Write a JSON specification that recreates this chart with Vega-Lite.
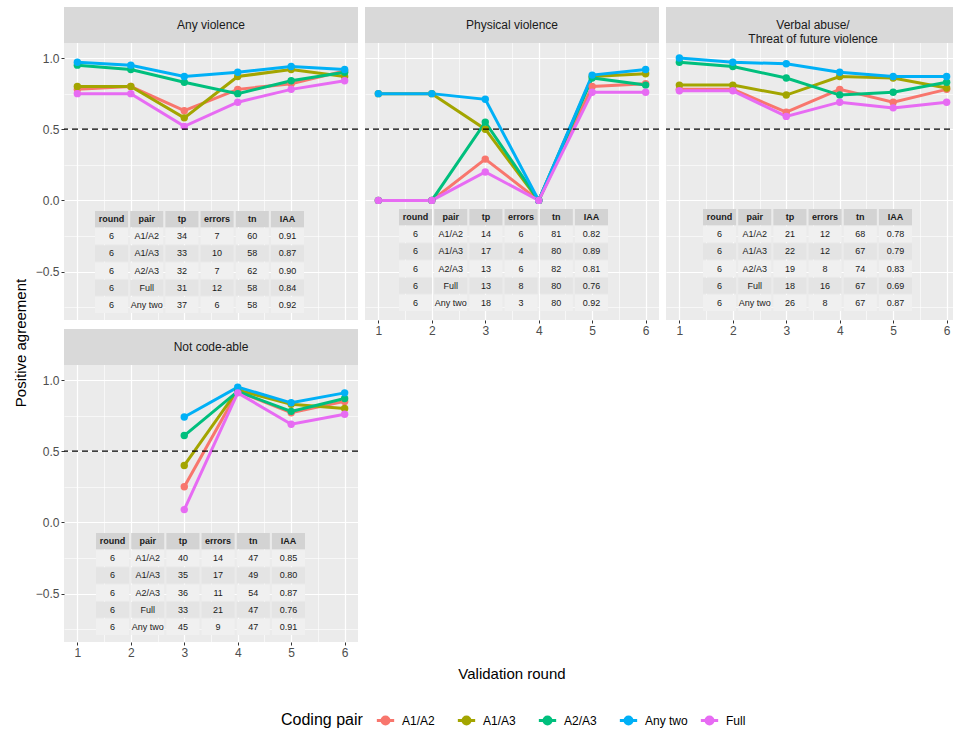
{
  "$schema": "https://vega.github.io/schema/vega-lite/v6.json",
  "background": "#FFFFFF",
  "padding": {"left": 5, "top": 7, "right": 5, "bottom": 5},
  "config": {
    "font": "Liberation Sans",
    "legend": {
      "orient": "none", "legendX": 276, "legendY": 703, "direction": "horizontal",
      "titleOrient": "left", "titleFontSize": 16, "titleFontWeight": "normal", "titleColor": "#000000",
      "titleBaseline": "middle", "titlePadding": 12,
      "labelFontSize": 12, "labelColor": "#000000", "labelOffset": 6,
      "symbolType": "M-1,0L1,0M0.4,0A0.4,0.4,0,1,1,-0.4,0A0.4,0.4,0,1,1,0.4,0",
      "symbolSize": 300, "symbolStrokeWidth": 3, "gridAlign": "all", "columnPadding": 6, "padding": 0
    }
  },
  "datasets": {
    "lines": [
      {"panel": "Any violence", "pair": "A1/A2", "round": 1, "value": 0.78},
      {"panel": "Any violence", "pair": "A1/A2", "round": 2, "value": 0.80},
      {"panel": "Any violence", "pair": "A1/A2", "round": 3, "value": 0.63},
      {"panel": "Any violence", "pair": "A1/A2", "round": 4, "value": 0.78},
      {"panel": "Any violence", "pair": "A1/A2", "round": 5, "value": 0.82},
      {"panel": "Any violence", "pair": "A1/A2", "round": 6, "value": 0.91},
      {"panel": "Any violence", "pair": "A1/A3", "round": 1, "value": 0.80},
      {"panel": "Any violence", "pair": "A1/A3", "round": 2, "value": 0.80},
      {"panel": "Any violence", "pair": "A1/A3", "round": 3, "value": 0.58},
      {"panel": "Any violence", "pair": "A1/A3", "round": 4, "value": 0.87},
      {"panel": "Any violence", "pair": "A1/A3", "round": 5, "value": 0.92},
      {"panel": "Any violence", "pair": "A1/A3", "round": 6, "value": 0.87},
      {"panel": "Any violence", "pair": "A2/A3", "round": 1, "value": 0.95},
      {"panel": "Any violence", "pair": "A2/A3", "round": 2, "value": 0.92},
      {"panel": "Any violence", "pair": "A2/A3", "round": 3, "value": 0.83},
      {"panel": "Any violence", "pair": "A2/A3", "round": 4, "value": 0.75},
      {"panel": "Any violence", "pair": "A2/A3", "round": 5, "value": 0.84},
      {"panel": "Any violence", "pair": "A2/A3", "round": 6, "value": 0.90},
      {"panel": "Any violence", "pair": "Any two", "round": 1, "value": 0.97},
      {"panel": "Any violence", "pair": "Any two", "round": 2, "value": 0.95},
      {"panel": "Any violence", "pair": "Any two", "round": 3, "value": 0.87},
      {"panel": "Any violence", "pair": "Any two", "round": 4, "value": 0.90},
      {"panel": "Any violence", "pair": "Any two", "round": 5, "value": 0.94},
      {"panel": "Any violence", "pair": "Any two", "round": 6, "value": 0.92},
      {"panel": "Any violence", "pair": "Full", "round": 1, "value": 0.75},
      {"panel": "Any violence", "pair": "Full", "round": 2, "value": 0.75},
      {"panel": "Any violence", "pair": "Full", "round": 3, "value": 0.52},
      {"panel": "Any violence", "pair": "Full", "round": 4, "value": 0.69},
      {"panel": "Any violence", "pair": "Full", "round": 5, "value": 0.78},
      {"panel": "Any violence", "pair": "Full", "round": 6, "value": 0.84},

      {"panel": "Physical violence", "pair": "A1/A2", "round": 1, "value": 0},
      {"panel": "Physical violence", "pair": "A1/A2", "round": 2, "value": 0},
      {"panel": "Physical violence", "pair": "A1/A2", "round": 3, "value": 0.29},
      {"panel": "Physical violence", "pair": "A1/A2", "round": 4, "value": 0},
      {"panel": "Physical violence", "pair": "A1/A2", "round": 5, "value": 0.80},
      {"panel": "Physical violence", "pair": "A1/A2", "round": 6, "value": 0.82},
      {"panel": "Physical violence", "pair": "A1/A3", "round": 1, "value": 0.75},
      {"panel": "Physical violence", "pair": "A1/A3", "round": 2, "value": 0.75},
      {"panel": "Physical violence", "pair": "A1/A3", "round": 3, "value": 0.50},
      {"panel": "Physical violence", "pair": "A1/A3", "round": 4, "value": 0},
      {"panel": "Physical violence", "pair": "A1/A3", "round": 5, "value": 0.87},
      {"panel": "Physical violence", "pair": "A1/A3", "round": 6, "value": 0.89},
      {"panel": "Physical violence", "pair": "A2/A3", "round": 1, "value": 0},
      {"panel": "Physical violence", "pair": "A2/A3", "round": 2, "value": 0},
      {"panel": "Physical violence", "pair": "A2/A3", "round": 3, "value": 0.55},
      {"panel": "Physical violence", "pair": "A2/A3", "round": 4, "value": 0},
      {"panel": "Physical violence", "pair": "A2/A3", "round": 5, "value": 0.86},
      {"panel": "Physical violence", "pair": "A2/A3", "round": 6, "value": 0.81},
      {"panel": "Physical violence", "pair": "Any two", "round": 1, "value": 0.75},
      {"panel": "Physical violence", "pair": "Any two", "round": 2, "value": 0.75},
      {"panel": "Physical violence", "pair": "Any two", "round": 3, "value": 0.71},
      {"panel": "Physical violence", "pair": "Any two", "round": 4, "value": 0},
      {"panel": "Physical violence", "pair": "Any two", "round": 5, "value": 0.88},
      {"panel": "Physical violence", "pair": "Any two", "round": 6, "value": 0.92},
      {"panel": "Physical violence", "pair": "Full", "round": 1, "value": 0},
      {"panel": "Physical violence", "pair": "Full", "round": 2, "value": 0},
      {"panel": "Physical violence", "pair": "Full", "round": 3, "value": 0.20},
      {"panel": "Physical violence", "pair": "Full", "round": 4, "value": 0},
      {"panel": "Physical violence", "pair": "Full", "round": 5, "value": 0.76},
      {"panel": "Physical violence", "pair": "Full", "round": 6, "value": 0.76},

      {"panel": "Verbal", "pair": "A1/A2", "round": 1, "value": 0.78},
      {"panel": "Verbal", "pair": "A1/A2", "round": 2, "value": 0.78},
      {"panel": "Verbal", "pair": "A1/A2", "round": 3, "value": 0.62},
      {"panel": "Verbal", "pair": "A1/A2", "round": 4, "value": 0.78},
      {"panel": "Verbal", "pair": "A1/A2", "round": 5, "value": 0.69},
      {"panel": "Verbal", "pair": "A1/A2", "round": 6, "value": 0.78},
      {"panel": "Verbal", "pair": "A1/A3", "round": 1, "value": 0.81},
      {"panel": "Verbal", "pair": "A1/A3", "round": 2, "value": 0.81},
      {"panel": "Verbal", "pair": "A1/A3", "round": 3, "value": 0.74},
      {"panel": "Verbal", "pair": "A1/A3", "round": 4, "value": 0.87},
      {"panel": "Verbal", "pair": "A1/A3", "round": 5, "value": 0.86},
      {"panel": "Verbal", "pair": "A1/A3", "round": 6, "value": 0.79},
      {"panel": "Verbal", "pair": "A2/A3", "round": 1, "value": 0.97},
      {"panel": "Verbal", "pair": "A2/A3", "round": 2, "value": 0.94},
      {"panel": "Verbal", "pair": "A2/A3", "round": 3, "value": 0.86},
      {"panel": "Verbal", "pair": "A2/A3", "round": 4, "value": 0.74},
      {"panel": "Verbal", "pair": "A2/A3", "round": 5, "value": 0.76},
      {"panel": "Verbal", "pair": "A2/A3", "round": 6, "value": 0.83},
      {"panel": "Verbal", "pair": "Any two", "round": 1, "value": 1.00},
      {"panel": "Verbal", "pair": "Any two", "round": 2, "value": 0.97},
      {"panel": "Verbal", "pair": "Any two", "round": 3, "value": 0.96},
      {"panel": "Verbal", "pair": "Any two", "round": 4, "value": 0.90},
      {"panel": "Verbal", "pair": "Any two", "round": 5, "value": 0.87},
      {"panel": "Verbal", "pair": "Any two", "round": 6, "value": 0.87},
      {"panel": "Verbal", "pair": "Full", "round": 1, "value": 0.77},
      {"panel": "Verbal", "pair": "Full", "round": 2, "value": 0.77},
      {"panel": "Verbal", "pair": "Full", "round": 3, "value": 0.59},
      {"panel": "Verbal", "pair": "Full", "round": 4, "value": 0.69},
      {"panel": "Verbal", "pair": "Full", "round": 5, "value": 0.65},
      {"panel": "Verbal", "pair": "Full", "round": 6, "value": 0.69},

      {"panel": "Not code-able", "pair": "A1/A2", "round": 3, "value": 0.25},
      {"panel": "Not code-able", "pair": "A1/A2", "round": 4, "value": 0.92},
      {"panel": "Not code-able", "pair": "A1/A2", "round": 5, "value": 0.77},
      {"panel": "Not code-able", "pair": "A1/A2", "round": 6, "value": 0.85},
      {"panel": "Not code-able", "pair": "A1/A3", "round": 3, "value": 0.40},
      {"panel": "Not code-able", "pair": "A1/A3", "round": 4, "value": 0.93},
      {"panel": "Not code-able", "pair": "A1/A3", "round": 5, "value": 0.83},
      {"panel": "Not code-able", "pair": "A1/A3", "round": 6, "value": 0.80},
      {"panel": "Not code-able", "pair": "A2/A3", "round": 3, "value": 0.61},
      {"panel": "Not code-able", "pair": "A2/A3", "round": 4, "value": 0.92},
      {"panel": "Not code-able", "pair": "A2/A3", "round": 5, "value": 0.78},
      {"panel": "Not code-able", "pair": "A2/A3", "round": 6, "value": 0.87},
      {"panel": "Not code-able", "pair": "Any two", "round": 3, "value": 0.74},
      {"panel": "Not code-able", "pair": "Any two", "round": 4, "value": 0.95},
      {"panel": "Not code-able", "pair": "Any two", "round": 5, "value": 0.84},
      {"panel": "Not code-able", "pair": "Any two", "round": 6, "value": 0.91},
      {"panel": "Not code-able", "pair": "Full", "round": 3, "value": 0.09},
      {"panel": "Not code-able", "pair": "Full", "round": 4, "value": 0.91},
      {"panel": "Not code-able", "pair": "Full", "round": 5, "value": 0.69},
      {"panel": "Not code-able", "pair": "Full", "round": 6, "value": 0.76}
    ],
    "tables": [
      {"panel": "Any violence", "round": 6, "pair": "A1/A2", "tp": 34, "errors": 7, "tn": 60, "IAA": "0.91"},
      {"panel": "Any violence", "round": 6, "pair": "A1/A3", "tp": 33, "errors": 10, "tn": 58, "IAA": "0.87"},
      {"panel": "Any violence", "round": 6, "pair": "A2/A3", "tp": 32, "errors": 7, "tn": 62, "IAA": "0.90"},
      {"panel": "Any violence", "round": 6, "pair": "Full", "tp": 31, "errors": 12, "tn": 58, "IAA": "0.84"},
      {"panel": "Any violence", "round": 6, "pair": "Any two", "tp": 37, "errors": 6, "tn": 58, "IAA": "0.92"},
      {"panel": "Physical violence", "round": 6, "pair": "A1/A2", "tp": 14, "errors": 6, "tn": 81, "IAA": "0.82"},
      {"panel": "Physical violence", "round": 6, "pair": "A1/A3", "tp": 17, "errors": 4, "tn": 80, "IAA": "0.89"},
      {"panel": "Physical violence", "round": 6, "pair": "A2/A3", "tp": 13, "errors": 6, "tn": 82, "IAA": "0.81"},
      {"panel": "Physical violence", "round": 6, "pair": "Full", "tp": 13, "errors": 8, "tn": 80, "IAA": "0.76"},
      {"panel": "Physical violence", "round": 6, "pair": "Any two", "tp": 18, "errors": 3, "tn": 80, "IAA": "0.92"},
      {"panel": "Verbal", "round": 6, "pair": "A1/A2", "tp": 21, "errors": 12, "tn": 68, "IAA": "0.78"},
      {"panel": "Verbal", "round": 6, "pair": "A1/A3", "tp": 22, "errors": 12, "tn": 67, "IAA": "0.79"},
      {"panel": "Verbal", "round": 6, "pair": "A2/A3", "tp": 19, "errors": 8, "tn": 74, "IAA": "0.83"},
      {"panel": "Verbal", "round": 6, "pair": "Full", "tp": 18, "errors": 16, "tn": 67, "IAA": "0.69"},
      {"panel": "Verbal", "round": 6, "pair": "Any two", "tp": 26, "errors": 8, "tn": 67, "IAA": "0.87"},
      {"panel": "Not code-able", "round": 6, "pair": "A1/A2", "tp": 40, "errors": 14, "tn": 47, "IAA": "0.85"},
      {"panel": "Not code-able", "round": 6, "pair": "A1/A3", "tp": 35, "errors": 17, "tn": 49, "IAA": "0.80"},
      {"panel": "Not code-able", "round": 6, "pair": "A2/A3", "tp": 36, "errors": 11, "tn": 54, "IAA": "0.87"},
      {"panel": "Not code-able", "round": 6, "pair": "Full", "tp": 33, "errors": 21, "tn": 47, "IAA": "0.76"},
      {"panel": "Not code-able", "round": 6, "pair": "Any two", "tp": 45, "errors": 9, "tn": 47, "IAA": "0.91"}
    ]
  },
  "hconcat": [
    {
      "width": 32, "height": 672, "view": {"stroke": null},
      "data": {"values": [{"t": "Positive agreement"}]},
      "mark": {"type": "text", "angle": 270, "fontSize": 15, "color": "#000000", "baseline": "middle", "align": "center"},
      "encoding": {"text": {"field": "t", "type": "nominal"}}
    },
    {
      "vconcat": [
        {
          "concat": [
            {
              "width": 294, "height": 313, "view": {"fill": "#EBEBEB", "stroke": null},
              "layer": [
                {
                  "layer": [
                    {"data": {"name": "lines"}, "transform": [{"filter": "datum.panel === 'Any violence'"}],
                     "mark": {"type": "line", "strokeWidth": 3},
                     "encoding": {
                       "x": {"field": "round", "type": "quantitative", "scale": {"domain": [0.75, 6.25], "nice": false, "zero": false},
                             "axis": {"values": [1, 2, 3, 4, 5, 6], "grid": true, "gridColor": "#FFFFFF", "gridWidth": 1.2, "domain": false, "ticks": false, "labels": false, "title": null}},
                       "y": {"field": "value", "type": "quantitative", "scale": {"domain": [-0.84, 1.3585], "nice": false, "zero": false},
                             "axis": {"values": [-0.5, 0, 0.5, 1], "format": ".1f", "grid": true, "gridColor": "#FFFFFF", "gridWidth": 1.2, "domain": false, "ticks": true, "tickColor": "#333333", "tickSize": 3, "labelColor": "#4D4D4D", "labelFontSize": 12, "labelPadding": 2, "title": null}},
                       "color": {"field": "pair", "type": "nominal", "title": "Coding pair", "scale": {"domain": ["A1/A2", "A1/A3", "A2/A3", "Any two", "Full"], "range": ["#F8766D", "#A3A500", "#00BF7D", "#00B0F6", "#E76BF3"]}}
                     }},
                    {"data": {"name": "lines"}, "transform": [{"filter": "datum.panel === 'Any violence'"}],
                     "mark": {"type": "point", "filled": true, "size": 55, "opacity": 1},
                     "encoding": {
                       "x": {"field": "round", "type": "quantitative", "axis": {"values": [1.5, 2.5, 3.5, 4.5, 5.5], "orient": "top", "grid": true, "gridColor": "#FFFFFF", "gridWidth": 0.6, "domain": false, "ticks": false, "labels": false, "title": null}},
                       "y": {"field": "value", "type": "quantitative", "axis": {"values": [-0.75, -0.25, 0.25, 0.75], "orient": "right", "grid": true, "gridColor": "#FFFFFF", "gridWidth": 0.6, "domain": false, "ticks": false, "labels": false, "title": null}},
                       "color": {"field": "pair", "type": "nominal"}
                     }},
                    {"data": {"values": [{}]}, "mark": {"type": "rule", "strokeDash": [6, 4], "color": "#000000", "strokeWidth": 1.2},
                     "encoding": {"y": {"datum": 0.5, "type": "quantitative", "axis": null}}},
                    {"data": {"values": [{}]}, "mark": {"type": "rect", "color": "#D9D9D9"},
                     "encoding": {"x": {"datum": 0.75, "type": "quantitative", "axis": null}, "x2": {"datum": 6.25}, "y": {"datum": 1.105, "type": "quantitative", "axis": null}, "y2": {"datum": 1.3585}}},
                    {"data": {"values": [{"label": "Any violence"}]}, "mark": {"type": "text", "fontSize": 12, "color": "#1A1A1A", "baseline": "middle", "align": "center"},
                     "encoding": {"x": {"datum": 3.5, "type": "quantitative", "axis": null}, "y": {"datum": 1.232, "type": "quantitative", "axis": null}, "text": {"field": "label", "type": "nominal"}}}
                  ],
                  "resolve": {"axis": {"x": "independent", "y": "independent"}}
                },
                {
                  "data": {"name": "tables"},
                  "transform": [{"filter": "datum.panel === 'Any violence'"}, {"fold": ["round", "pair", "tp", "errors", "tn", "IAA"], "as": ["col", "val"]}],
                  "encoding": {
                    "x": {"field": "col", "type": "nominal", "axis": null, "scale": {"type": "band", "domain": ["round", "pair", "tp", "errors", "tn", "IAA"], "paddingInner": 0.06, "paddingOuter": 0, "range": [31, 240]}},
                    "y": {"field": "pair", "type": "nominal", "axis": null, "scale": {"type": "band", "domain": ["header", "A1/A2", "A1/A3", "A2/A3", "Full", "Any two"], "paddingInner": 0.06, "paddingOuter": 0, "range": [204, 306]}}
                  },
                  "layer": [
                    {"mark": {"type": "rect"}, "encoding": {"fill": {"condition": {"test": "datum.pair === 'A1/A3' || datum.pair === 'Full'", "value": "#E4E4E4"}, "value": "#F0F0F0"}}},
                    {"mark": {"type": "text", "fontSize": 9, "color": "#1A1A1A"}, "encoding": {"text": {"field": "val", "type": "nominal"}}},
                    {"transform": [{"filter": "datum.pair === 'A1/A2'"}], "mark": {"type": "rect", "color": "#D3D3D3"}, "encoding": {"y": {"datum": "header", "type": "nominal", "axis": null}}},
                    {"transform": [{"filter": "datum.pair === 'A1/A2'"}], "mark": {"type": "text", "fontSize": 9, "fontWeight": "bold", "color": "#1A1A1A"}, "encoding": {"y": {"datum": "header", "type": "nominal", "axis": null}, "text": {"field": "col", "type": "nominal"}}}
                  ]
                }
              ],
              "resolve": {"scale": {"x": "independent", "y": "independent"}}
            },
            {
              "width": 294, "height": 313, "view": {"fill": "#EBEBEB", "stroke": null},
              "layer": [
                {
                  "layer": [
                    {"data": {"name": "lines"}, "transform": [{"filter": "datum.panel === 'Physical violence'"}],
                     "mark": {"type": "line", "strokeWidth": 3},
                     "encoding": {
                       "x": {"field": "round", "type": "quantitative", "scale": {"domain": [0.75, 6.25], "nice": false, "zero": false},
                             "axis": {"values": [1, 2, 3, 4, 5, 6], "format": "d", "grid": true, "gridColor": "#FFFFFF", "gridWidth": 1.2, "domain": false, "ticks": true, "tickColor": "#333333", "tickSize": 3, "labelColor": "#4D4D4D", "labelFontSize": 12, "labelPadding": 2, "title": null}},
                       "y": {"field": "value", "type": "quantitative", "scale": {"domain": [-0.84, 1.3585], "nice": false, "zero": false},
                             "axis": {"values": [-0.5, 0, 0.5, 1], "grid": true, "gridColor": "#FFFFFF", "gridWidth": 1.2, "domain": false, "ticks": false, "labels": false, "title": null}},
                       "color": {"field": "pair", "type": "nominal", "title": "Coding pair", "scale": {"domain": ["A1/A2", "A1/A3", "A2/A3", "Any two", "Full"], "range": ["#F8766D", "#A3A500", "#00BF7D", "#00B0F6", "#E76BF3"]}}
                     }},
                    {"data": {"name": "lines"}, "transform": [{"filter": "datum.panel === 'Physical violence'"}],
                     "mark": {"type": "point", "filled": true, "size": 55, "opacity": 1},
                     "encoding": {
                       "x": {"field": "round", "type": "quantitative", "axis": {"values": [1.5, 2.5, 3.5, 4.5, 5.5], "orient": "top", "grid": true, "gridColor": "#FFFFFF", "gridWidth": 0.6, "domain": false, "ticks": false, "labels": false, "title": null}},
                       "y": {"field": "value", "type": "quantitative", "axis": {"values": [-0.75, -0.25, 0.25, 0.75], "orient": "right", "grid": true, "gridColor": "#FFFFFF", "gridWidth": 0.6, "domain": false, "ticks": false, "labels": false, "title": null}},
                       "color": {"field": "pair", "type": "nominal"}
                     }},
                    {"data": {"values": [{}]}, "mark": {"type": "rule", "strokeDash": [6, 4], "color": "#000000", "strokeWidth": 1.2},
                     "encoding": {"y": {"datum": 0.5, "type": "quantitative", "axis": null}}},
                    {"data": {"values": [{}]}, "mark": {"type": "rect", "color": "#D9D9D9"},
                     "encoding": {"x": {"datum": 0.75, "type": "quantitative", "axis": null}, "x2": {"datum": 6.25}, "y": {"datum": 1.105, "type": "quantitative", "axis": null}, "y2": {"datum": 1.3585}}},
                    {"data": {"values": [{"label": "Physical violence"}]}, "mark": {"type": "text", "fontSize": 12, "color": "#1A1A1A", "baseline": "middle", "align": "center"},
                     "encoding": {"x": {"datum": 3.5, "type": "quantitative", "axis": null}, "y": {"datum": 1.232, "type": "quantitative", "axis": null}, "text": {"field": "label", "type": "nominal"}}}
                  ],
                  "resolve": {"axis": {"x": "independent", "y": "independent"}}
                },
                {
                  "data": {"name": "tables"},
                  "transform": [{"filter": "datum.panel === 'Physical violence'"}, {"fold": ["round", "pair", "tp", "errors", "tn", "IAA"], "as": ["col", "val"]}],
                  "encoding": {
                    "x": {"field": "col", "type": "nominal", "axis": null, "scale": {"type": "band", "domain": ["round", "pair", "tp", "errors", "tn", "IAA"], "paddingInner": 0.06, "paddingOuter": 0, "range": [34, 243]}},
                    "y": {"field": "pair", "type": "nominal", "axis": null, "scale": {"type": "band", "domain": ["header", "A1/A2", "A1/A3", "A2/A3", "Full", "Any two"], "paddingInner": 0.06, "paddingOuter": 0, "range": [202, 304]}}
                  },
                  "layer": [
                    {"mark": {"type": "rect"}, "encoding": {"fill": {"condition": {"test": "datum.pair === 'A1/A3' || datum.pair === 'Full'", "value": "#E4E4E4"}, "value": "#F0F0F0"}}},
                    {"mark": {"type": "text", "fontSize": 9, "color": "#1A1A1A"}, "encoding": {"text": {"field": "val", "type": "nominal"}}},
                    {"transform": [{"filter": "datum.pair === 'A1/A2'"}], "mark": {"type": "rect", "color": "#D3D3D3"}, "encoding": {"y": {"datum": "header", "type": "nominal", "axis": null}}},
                    {"transform": [{"filter": "datum.pair === 'A1/A2'"}], "mark": {"type": "text", "fontSize": 9, "fontWeight": "bold", "color": "#1A1A1A"}, "encoding": {"y": {"datum": "header", "type": "nominal", "axis": null}, "text": {"field": "col", "type": "nominal"}}}
                  ]
                }
              ],
              "resolve": {"scale": {"x": "independent", "y": "independent"}}
            },
            {
              "width": 294, "height": 313, "view": {"fill": "#EBEBEB", "stroke": null},
              "layer": [
                {
                  "layer": [
                    {"data": {"name": "lines"}, "transform": [{"filter": "datum.panel === 'Verbal'"}],
                     "mark": {"type": "line", "strokeWidth": 3},
                     "encoding": {
                       "x": {"field": "round", "type": "quantitative", "scale": {"domain": [0.75, 6.25], "nice": false, "zero": false},
                             "axis": {"values": [1, 2, 3, 4, 5, 6], "format": "d", "grid": true, "gridColor": "#FFFFFF", "gridWidth": 1.2, "domain": false, "ticks": true, "tickColor": "#333333", "tickSize": 3, "labelColor": "#4D4D4D", "labelFontSize": 12, "labelPadding": 2, "title": null}},
                       "y": {"field": "value", "type": "quantitative", "scale": {"domain": [-0.84, 1.3585], "nice": false, "zero": false},
                             "axis": {"values": [-0.5, 0, 0.5, 1], "grid": true, "gridColor": "#FFFFFF", "gridWidth": 1.2, "domain": false, "ticks": false, "labels": false, "title": null}},
                       "color": {"field": "pair", "type": "nominal", "title": "Coding pair", "scale": {"domain": ["A1/A2", "A1/A3", "A2/A3", "Any two", "Full"], "range": ["#F8766D", "#A3A500", "#00BF7D", "#00B0F6", "#E76BF3"]}}
                     }},
                    {"data": {"name": "lines"}, "transform": [{"filter": "datum.panel === 'Verbal'"}],
                     "mark": {"type": "point", "filled": true, "size": 55, "opacity": 1},
                     "encoding": {
                       "x": {"field": "round", "type": "quantitative", "axis": {"values": [1.5, 2.5, 3.5, 4.5, 5.5], "orient": "top", "grid": true, "gridColor": "#FFFFFF", "gridWidth": 0.6, "domain": false, "ticks": false, "labels": false, "title": null}},
                       "y": {"field": "value", "type": "quantitative", "axis": {"values": [-0.75, -0.25, 0.25, 0.75], "orient": "right", "grid": true, "gridColor": "#FFFFFF", "gridWidth": 0.6, "domain": false, "ticks": false, "labels": false, "title": null}},
                       "color": {"field": "pair", "type": "nominal"}
                     }},
                    {"data": {"values": [{}]}, "mark": {"type": "rule", "strokeDash": [6, 4], "color": "#000000", "strokeWidth": 1.2},
                     "encoding": {"y": {"datum": 0.5, "type": "quantitative", "axis": null}}},
                    {"data": {"values": [{}]}, "mark": {"type": "rect", "color": "#D9D9D9"},
                     "encoding": {"x": {"datum": 0.75, "type": "quantitative", "axis": null}, "x2": {"datum": 6.25}, "y": {"datum": 1.105, "type": "quantitative", "axis": null}, "y2": {"datum": 1.3585}}},
                    {"data": {"values": [{"label": ["Verbal abuse/", "Threat of future violence"]}]}, "mark": {"type": "text", "fontSize": 12, "color": "#1A1A1A", "baseline": "middle", "align": "center", "lineHeight": 14},
                     "encoding": {"x": {"datum": 3.5, "type": "quantitative", "axis": null}, "y": {"datum": 1.232, "type": "quantitative", "axis": null}, "text": {"field": "label", "type": "nominal"}}}
                  ],
                  "resolve": {"axis": {"x": "independent", "y": "independent"}}
                },
                {
                  "data": {"name": "tables"},
                  "transform": [{"filter": "datum.panel === 'Verbal'"}, {"fold": ["round", "pair", "tp", "errors", "tn", "IAA"], "as": ["col", "val"]}],
                  "encoding": {
                    "x": {"field": "col", "type": "nominal", "axis": null, "scale": {"type": "band", "domain": ["round", "pair", "tp", "errors", "tn", "IAA"], "paddingInner": 0.06, "paddingOuter": 0, "range": [37, 246]}},
                    "y": {"field": "pair", "type": "nominal", "axis": null, "scale": {"type": "band", "domain": ["header", "A1/A2", "A1/A3", "A2/A3", "Full", "Any two"], "paddingInner": 0.06, "paddingOuter": 0, "range": [202, 304]}}
                  },
                  "layer": [
                    {"mark": {"type": "rect"}, "encoding": {"fill": {"condition": {"test": "datum.pair === 'A1/A3' || datum.pair === 'Full'", "value": "#E4E4E4"}, "value": "#F0F0F0"}}},
                    {"mark": {"type": "text", "fontSize": 9, "color": "#1A1A1A"}, "encoding": {"text": {"field": "val", "type": "nominal"}}},
                    {"transform": [{"filter": "datum.pair === 'A1/A2'"}], "mark": {"type": "rect", "color": "#D3D3D3"}, "encoding": {"y": {"datum": "header", "type": "nominal", "axis": null}}},
                    {"transform": [{"filter": "datum.pair === 'A1/A2'"}], "mark": {"type": "text", "fontSize": 9, "fontWeight": "bold", "color": "#1A1A1A"}, "encoding": {"y": {"datum": "header", "type": "nominal", "axis": null}, "text": {"field": "col", "type": "nominal"}}}
                  ]
                }
              ],
              "resolve": {"scale": {"x": "independent", "y": "independent"}}
            },
            {
              "width": 294, "height": 313, "view": {"fill": "#EBEBEB", "stroke": null},
              "layer": [
                {
                  "layer": [
                    {"data": {"name": "lines"}, "transform": [{"filter": "datum.panel === 'Not code-able'"}],
                     "mark": {"type": "line", "strokeWidth": 3},
                     "encoding": {
                       "x": {"field": "round", "type": "quantitative", "scale": {"domain": [0.75, 6.25], "nice": false, "zero": false},
                             "axis": {"values": [1, 2, 3, 4, 5, 6], "format": "d", "grid": true, "gridColor": "#FFFFFF", "gridWidth": 1.2, "domain": false, "ticks": true, "tickColor": "#333333", "tickSize": 3, "labelColor": "#4D4D4D", "labelFontSize": 12, "labelPadding": 2, "title": null}},
                       "y": {"field": "value", "type": "quantitative", "scale": {"domain": [-0.84, 1.3585], "nice": false, "zero": false},
                             "axis": {"values": [-0.5, 0, 0.5, 1], "format": ".1f", "grid": true, "gridColor": "#FFFFFF", "gridWidth": 1.2, "domain": false, "ticks": true, "tickColor": "#333333", "tickSize": 3, "labelColor": "#4D4D4D", "labelFontSize": 12, "labelPadding": 2, "title": null}},
                       "color": {"field": "pair", "type": "nominal", "title": "Coding pair", "scale": {"domain": ["A1/A2", "A1/A3", "A2/A3", "Any two", "Full"], "range": ["#F8766D", "#A3A500", "#00BF7D", "#00B0F6", "#E76BF3"]}}
                     }},
                    {"data": {"name": "lines"}, "transform": [{"filter": "datum.panel === 'Not code-able'"}],
                     "mark": {"type": "point", "filled": true, "size": 55, "opacity": 1},
                     "encoding": {
                       "x": {"field": "round", "type": "quantitative", "axis": {"values": [1.5, 2.5, 3.5, 4.5, 5.5], "orient": "top", "grid": true, "gridColor": "#FFFFFF", "gridWidth": 0.6, "domain": false, "ticks": false, "labels": false, "title": null}},
                       "y": {"field": "value", "type": "quantitative", "axis": {"values": [-0.75, -0.25, 0.25, 0.75], "orient": "right", "grid": true, "gridColor": "#FFFFFF", "gridWidth": 0.6, "domain": false, "ticks": false, "labels": false, "title": null}},
                       "color": {"field": "pair", "type": "nominal"}
                     }},
                    {"data": {"values": [{}]}, "mark": {"type": "rule", "strokeDash": [6, 4], "color": "#000000", "strokeWidth": 1.2},
                     "encoding": {"y": {"datum": 0.5, "type": "quantitative", "axis": null}}},
                    {"data": {"values": [{}]}, "mark": {"type": "rect", "color": "#D9D9D9"},
                     "encoding": {"x": {"datum": 0.75, "type": "quantitative", "axis": null}, "x2": {"datum": 6.25}, "y": {"datum": 1.105, "type": "quantitative", "axis": null}, "y2": {"datum": 1.3585}}},
                    {"data": {"values": [{"label": "Not code-able"}]}, "mark": {"type": "text", "fontSize": 12, "color": "#1A1A1A", "baseline": "middle", "align": "center"},
                     "encoding": {"x": {"datum": 3.5, "type": "quantitative", "axis": null}, "y": {"datum": 1.232, "type": "quantitative", "axis": null}, "text": {"field": "label", "type": "nominal"}}}
                  ],
                  "resolve": {"axis": {"x": "independent", "y": "independent"}}
                },
                {
                  "data": {"name": "tables"},
                  "transform": [{"filter": "datum.panel === 'Not code-able'"}, {"fold": ["round", "pair", "tp", "errors", "tn", "IAA"], "as": ["col", "val"]}],
                  "encoding": {
                    "x": {"field": "col", "type": "nominal", "axis": null, "scale": {"type": "band", "domain": ["round", "pair", "tp", "errors", "tn", "IAA"], "paddingInner": 0.06, "paddingOuter": 0, "range": [32, 241]}},
                    "y": {"field": "pair", "type": "nominal", "axis": null, "scale": {"type": "band", "domain": ["header", "A1/A2", "A1/A3", "A2/A3", "Full", "Any two"], "paddingInner": 0.06, "paddingOuter": 0, "range": [204, 306]}}
                  },
                  "layer": [
                    {"mark": {"type": "rect"}, "encoding": {"fill": {"condition": {"test": "datum.pair === 'A1/A3' || datum.pair === 'Full'", "value": "#E4E4E4"}, "value": "#F0F0F0"}}},
                    {"mark": {"type": "text", "fontSize": 9, "color": "#1A1A1A"}, "encoding": {"text": {"field": "val", "type": "nominal"}}},
                    {"transform": [{"filter": "datum.pair === 'A1/A2'"}], "mark": {"type": "rect", "color": "#D3D3D3"}, "encoding": {"y": {"datum": "header", "type": "nominal", "axis": null}}},
                    {"transform": [{"filter": "datum.pair === 'A1/A2'"}], "mark": {"type": "text", "fontSize": 9, "fontWeight": "bold", "color": "#1A1A1A"}, "encoding": {"y": {"datum": "header", "type": "nominal", "axis": null}, "text": {"field": "col", "type": "nominal"}}}
                  ]
                }
              ],
              "resolve": {"scale": {"x": "independent", "y": "independent"}}
            }
          ],
          "columns": 3,
          "spacing": {"row": 9, "column": 7},
          "bounds": "flush"
        },
        {
          "width": 896, "height": 16, "view": {"stroke": null},
          "data": {"values": [{"t": "Validation round"}]},
          "mark": {"type": "text", "fontSize": 15, "color": "#000000", "baseline": "middle", "align": "center"},
          "encoding": {"text": {"field": "t", "type": "nominal"}}
        }
      ],
      "spacing": 8
    }
  ],
  "spacing": -2
}
